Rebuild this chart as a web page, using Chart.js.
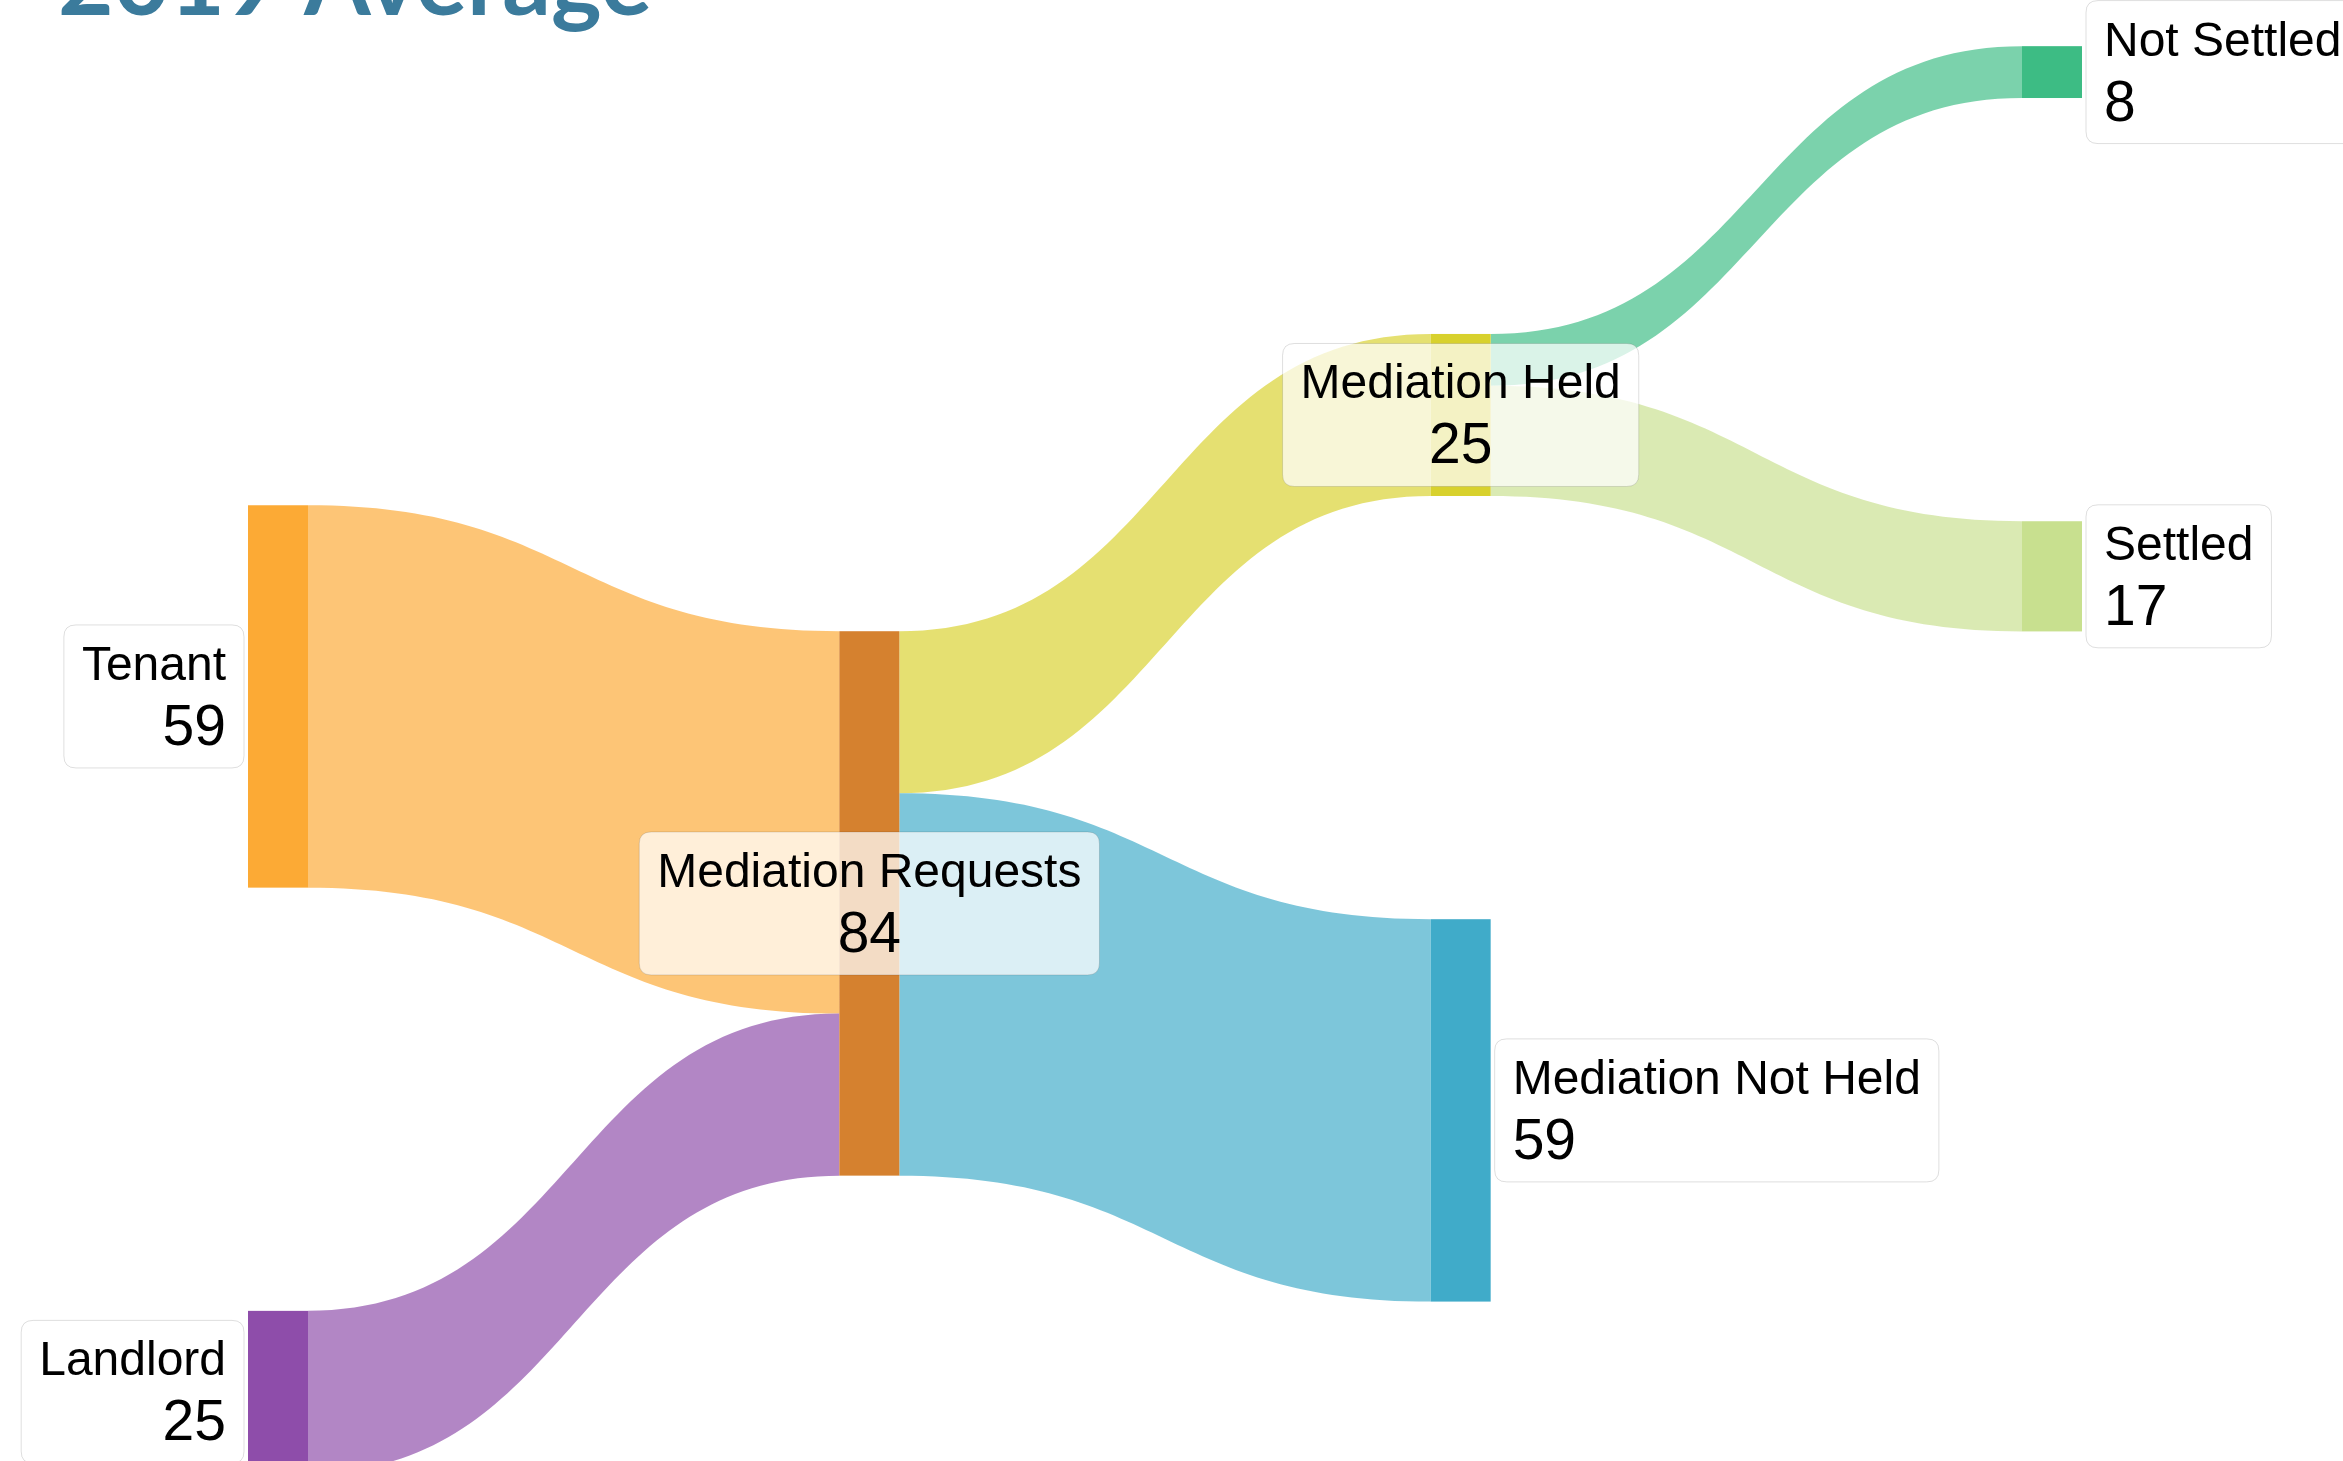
<!DOCTYPE html>
<html>
<head>
<meta charset="utf-8">
<title>2019 Average</title>
<script src="https://cdn.jsdelivr.net/npm/chart.js@4.4.1/dist/chart.umd.min.js"></script>
<style>
    html, body { margin: 0; padding: 0; background: #ffffff; overflow: hidden; }
    canvas { display: block; }
</style>
</head>
<body>
<canvas id="sankey" width="2343" height="1461"></canvas>
<script>
// Sankey data
const titleText = '2019 Average';
const nodeNames = ['Tenant', 'Landlord', 'Mediation Requests', 'Mediation Held', 'Mediation Not Held', 'Not Settled', 'Settled'];
const linkSources = [0, 1, 2, 2, 3, 3];
const linkTargets = [2, 2, 3, 4, 5, 6];
const linkValues = [59, 25, 25, 59, 8, 17];

// Styles
const nodeColors = ['#FCAA35', '#8E4DAA', '#D5812F', '#D8D12D', '#40ABC9', '#3DBC84', '#C8E08F'];
const linkColorNode = [0, 1, 3, 4, 5, 6];   // which node colour each flow takes
const LINK_ALPHA = 0.68;
const NODE_W = 60;          // px
const NODE_PAD = 65.3;      // value units between nodes of a column
const LABEL_GAP = 4;
const BOX_PAD_X = 18;
const BOX_H = 143;
const NAME_FONT = '48px "Liberation Sans", Arial, sans-serif';
const VALUE_FONT = '57px "Liberation Sans", Arial, sans-serif';

// Layout in value units (columns + vertical stacking)
function buildLayout() {
    const nodes = nodeNames.map((name, i) => ({ index: i, name: name, inLinks: [], outLinks: [], column: 0, top: 0 }));
    const links = linkValues.map((v, i) => ({ source: nodes[linkSources[i]], target: nodes[linkTargets[i]], value: v, color: nodeColors[linkColorNode[i]] }));
    links.forEach(l => { l.source.outLinks.push(l); l.target.inLinks.push(l); });

    nodes.forEach(nd => {
        const inSum = nd.inLinks.reduce((s, l) => s + l.value, 0);
        const outSum = nd.outLinks.reduce((s, l) => s + l.value, 0);
        nd.value = Math.max(inSum, outSum);
    });

    // longest path from the sources gives the column
    let changed = true;
    while (changed) {
        changed = false;
        links.forEach(l => {
            if (l.target.column < l.source.column + 1) {
                l.target.column = l.source.column + 1;
                changed = true;
            }
        });
    }
    const maxCol = Math.max(...nodes.map(nd => nd.column));
    const columns = [];
    for (let c = 0; c <= maxCol; c++) columns.push(nodes.filter(nd => nd.column === c));

    // stack each column from zero
    columns.forEach(col => {
        let y = 0;
        col.forEach(nd => { nd.top = y; y += nd.value + NODE_PAD; });
    });

    // link offsets inside their nodes, in node order
    nodes.forEach(nd => {
        let off = 0;
        nd.outLinks.sort((a, b) => a.target.index - b.target.index).forEach(l => { l.sourceOffset = off; off += l.value; });
        off = 0;
        nd.inLinks.sort((a, b) => a.source.index - b.source.index).forEach(l => { l.targetOffset = off; off += l.value; });
    });

    // shift each column so its incoming flows are level on average
    for (let c = 1; c <= maxCol; c++) {
        let sum = 0, weight = 0;
        links.filter(l => l.target.column === c).forEach(l => {
            const ys = l.source.top + l.sourceOffset + l.value / 2;
            const yt = l.target.top + l.targetOffset + l.value / 2;
            sum += l.value * (ys - yt);
            weight += l.value;
        });
        const shift = weight ? sum / weight : 0;
        columns[c].forEach(nd => { nd.top += shift; });
    }
    const minTop = Math.min(...nodes.map(nd => nd.top));
    nodes.forEach(nd => { nd.top -= minTop; });

    return { nodes, links };
}

const layout = buildLayout();

function roundRect(ctx, x, y, w, h, r) {
    ctx.beginPath();
    ctx.moveTo(x + r, y);
    ctx.lineTo(x + w - r, y);
    ctx.quadraticCurveTo(x + w, y, x + w, y + r);
    ctx.lineTo(x + w, y + h - r);
    ctx.quadraticCurveTo(x + w, y + h, x + w - r, y + h);
    ctx.lineTo(x + r, y + h);
    ctx.quadraticCurveTo(x, y + h, x, y + h - r);
    ctx.lineTo(x, y + r);
    ctx.quadraticCurveTo(x, y, x + r, y);
    ctx.closePath();
}

const sankeyPlugin = {
    id: 'sankeyDraw',
    afterDatasetsDraw(chart) {
        const ctx = chart.ctx;
        const xs = chart.scales.x;
        const ys = chart.scales.y;
        const px = col => xs.getPixelForValue(col);
        const py = v => ys.getPixelForValue(v);

        ctx.save();

        // flows
        layout.links.forEach(l => {
            const x0 = px(l.source.column) + NODE_W;
            const x1 = px(l.target.column);
            const xm = (x0 + x1) / 2;
            const y0t = py(l.source.top + l.sourceOffset);
            const y0b = py(l.source.top + l.sourceOffset + l.value);
            const y1t = py(l.target.top + l.targetOffset);
            const y1b = py(l.target.top + l.targetOffset + l.value);
            ctx.globalAlpha = LINK_ALPHA;
            ctx.fillStyle = l.color;
            ctx.beginPath();
            ctx.moveTo(x0, y0t);
            ctx.bezierCurveTo(xm, y0t, xm, y1t, x1, y1t);
            ctx.lineTo(x1, y1b);
            ctx.bezierCurveTo(xm, y1b, xm, y0b, x0, y0b);
            ctx.closePath();
            ctx.fill();
        });
        ctx.globalAlpha = 1;

        // nodes
        layout.nodes.forEach(nd => {
            const x = px(nd.column);
            const y0 = py(nd.top);
            const y1 = py(nd.top + nd.value);
            ctx.fillStyle = nodeColors[nd.index];
            ctx.fillRect(x, y0, NODE_W, y1 - y0);
        });

        // labels
        layout.nodes.forEach(nd => {
            const x = px(nd.column);
            const yc = (py(nd.top) + py(nd.top + nd.value)) / 2;
            const valueText = String(nd.value);
            ctx.font = NAME_FONT;
            const w1 = ctx.measureText(nd.name).width;
            ctx.font = VALUE_FONT;
            const w2 = ctx.measureText(valueText).width;
            const boxW = Math.max(w1, w2) + BOX_PAD_X * 2;
            const boxY = yc - BOX_H / 2;
            let boxX, align, tx;
            if (nd.inLinks.length === 0) {
                boxX = x - LABEL_GAP - boxW;
                align = 'right';
                tx = boxX + boxW - BOX_PAD_X;
            } else if (nd.outLinks.length === 0) {
                boxX = x + NODE_W + LABEL_GAP;
                align = 'left';
                tx = boxX + BOX_PAD_X;
            } else {
                boxX = x + NODE_W / 2 - boxW / 2;
                align = 'center';
                tx = x + NODE_W / 2;
            }
            roundRect(ctx, boxX, boxY, boxW, BOX_H, 12);
            ctx.fillStyle = 'rgba(255,255,255,0.72)';
            ctx.fill();
            ctx.lineWidth = 1;
            ctx.strokeStyle = 'rgba(0,0,0,0.13)';
            ctx.stroke();

            ctx.fillStyle = '#000000';
            ctx.textAlign = align;
            ctx.textBaseline = 'alphabetic';
            ctx.font = NAME_FONT;
            ctx.fillText(nd.name, tx, boxY + 55);
            ctx.font = VALUE_FONT;
            ctx.fillText(valueText, tx, boxY + 120);
        });

        // title, cut by the top edge as in the source picture
        ctx.fillStyle = '#3B7B9C';
        ctx.textAlign = 'left';
        ctx.textBaseline = 'alphabetic';
        ctx.font = 'bold 96px Lato, sans-serif';
        ctx.fillText(titleText, 58, 15);

        ctx.restore();
    }
};

new Chart(document.getElementById('sankey'), {
    type: 'scatter',
    data: {
        datasets: [{
            label: 'nodes',
            data: layout.nodes.map(nd => ({ x: nd.column, y: nd.top })),
            pointRadius: 0,
            pointHoverRadius: 0
        }]
    },
    options: {
        responsive: false,
        animation: false,
        devicePixelRatio: 1,
        layout: { padding: { left: 248, right: 321, top: 52, bottom: 0 } },
        scales: {
            x: { type: 'linear', min: 0, max: 3, display: false },
            y: { type: 'linear', min: 0.9, max: 218.3, reverse: true, display: false }
        },
        plugins: {
            legend: { display: false },
            tooltip: { enabled: false }
        }
    },
    plugins: [sankeyPlugin]
});
</script>
</body>
</html>
